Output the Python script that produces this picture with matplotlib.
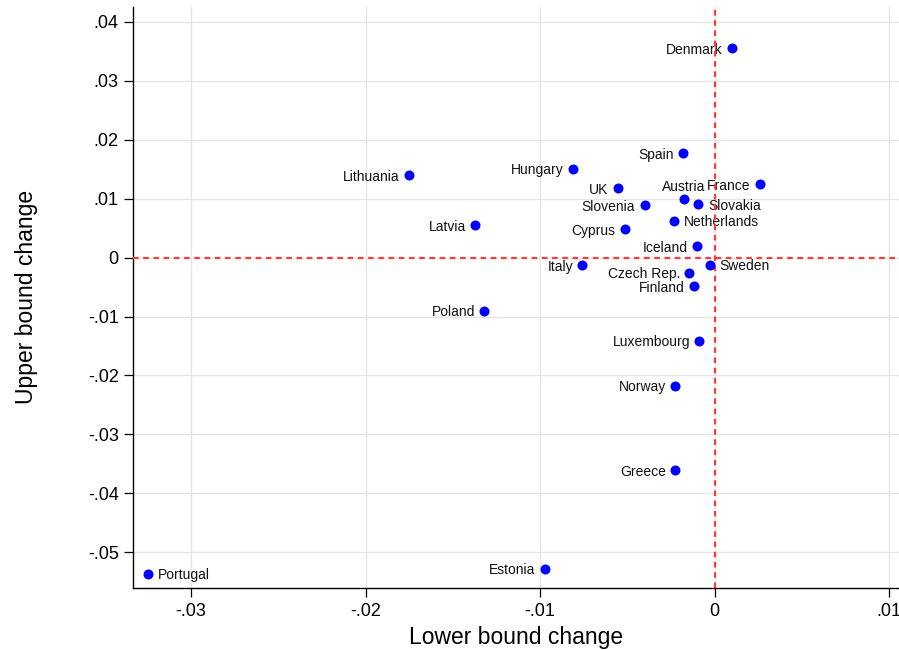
import numpy as np
import matplotlib
matplotlib.use("Agg")
from matplotlib import pyplot as plt
from matplotlib.ticker import FuncFormatter

plt.rcParams["font.family"] = ["Liberation Sans", "DejaVu Sans"]

# country, lower bound change (x), upper bound change (y)
countries = ["Denmark", "Spain", "Hungary", "UK", "Austria", "Slovakia", "France",
             "Slovenia", "Netherlands", "Cyprus", "Iceland", "Italy", "Sweden",
             "Czech Rep.", "Finland", "Lithuania", "Latvia", "Poland", "Luxembourg",
             "Norway", "Greece", "Estonia", "Portugal"]
lower_change = [0.00101, -0.00181, -0.00814, -0.00556, -0.00178, -0.00093, 0.00258,
                -0.00401, -0.00233, -0.00516, -0.00101, -0.00758, -0.00026,
                -0.00145, -0.00120, -0.01750, -0.01371, -0.01320, -0.00088,
                -0.00225, -0.00225, -0.00972, -0.03245]
upper_change = [0.03554, 0.01769, 0.01508, 0.01176, 0.00990, 0.00910, 0.01249,
                0.00888, 0.00627, 0.00486, 0.00198, -0.00124, -0.00119,
                -0.00254, -0.00480, 0.01402, 0.00554, -0.00903, -0.01412,
                -0.02173, -0.03610, -0.05276, -0.05361]
# label position (clock style like stata mlabpos)
label_pos = ["9", "9", "9", "9", "12", "3", "9", "9", "3", "9", "9", "9", "3",
             "9", "9", "9", "9", "9", "9", "9", "9", "9", "3"]

xticks = [-0.03, -0.02, -0.01, 0, 0.01]
yticks = [0.04, 0.03, 0.02, 0.01, 0, -0.01, -0.02, -0.03, -0.04, -0.05]


def stata_fmt(v, pos):
    if abs(v) < 1e-12:
        return "0"
    s = "%.2f" % v
    return s.replace("0.", ".")


fig = plt.figure(figsize=(8.99, 6.5), dpi=100)
ax = fig.add_axes([0.1483, 0.0958, 0.8517, 0.8934])

ax.scatter(lower_change, upper_change, s=52, color="#0000ff", zorder=5, linewidths=0)

for name, x, y, p in zip(countries, lower_change, upper_change, label_pos):
    if p == "9":
        ax.annotate(name, (x, y), xytext=(-6.8, -1.2), textcoords="offset points",
                    ha="right", va="center", fontsize=10, color="#111111", zorder=3)
    elif p == "3":
        ax.annotate(name, (x, y), xytext=(6.8, -1.2), textcoords="offset points",
                    ha="left", va="center", fontsize=10, color="#111111", zorder=3)
    else:
        ax.annotate(name, (x, y), xytext=(0, 8.5), textcoords="offset points",
                    ha="center", va="center", fontsize=10, color="#111111", zorder=3)

# reference lines at zero
ax.axvline(0, color="#ff3a3a", lw=1.6, dashes=(2.5, 2.1), zorder=4)
ax.axhline(0, color="#ff3a3a", lw=1.6, dashes=(2.5, 2.1), zorder=4)

ax.set_xlim(-0.03331, 0.01056)
ax.set_ylim(-0.0560, 0.04249)
ax.set_xticks(xticks)
ax.set_yticks(yticks)
ax.xaxis.set_major_formatter(FuncFormatter(stata_fmt))
ax.yaxis.set_major_formatter(FuncFormatter(stata_fmt))
ax.grid(True, color="#e6e6e6", lw=1.0, zorder=0)
ax.set_axisbelow(True)

ax.spines["top"].set_visible(False)
ax.spines["right"].set_visible(False)
for s in ["left", "bottom"]:
    ax.spines[s].set_linewidth(1.0)
    ax.spines[s].set_color("black")
ax.tick_params(axis="both", direction="out", length=6.5, width=0.9, labelsize=13,
               colors="black")
ax.tick_params(axis="x", pad=4.5)
ax.tick_params(axis="y", pad=4)

ax.set_xlabel("Lower bound change", fontsize=16.5, labelpad=4)
ax.set_ylabel("Upper bound change", fontsize=16.5, labelpad=36)

plt.savefig("out.png", dpi=100)
